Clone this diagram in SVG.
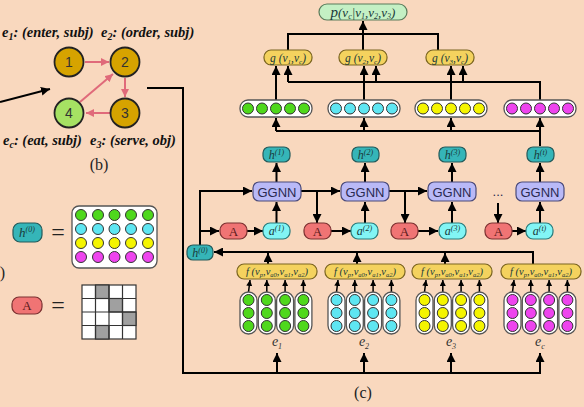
<svg xmlns="http://www.w3.org/2000/svg" width="584" height="407" viewBox="0 0 584 407">
<defs>
<style>
.ln{stroke:#000;stroke-width:2;fill:none}
.ar{stroke:#000;stroke-width:2;fill:none;marker-end:url(#ah)}
.ars{stroke:#000;stroke-width:1.5;fill:none;marker-end:url(#ahs)}
.pk{stroke:#e06a7a;stroke-width:2;fill:none;marker-end:url(#ahp)}
.lbl{font-family:"Liberation Serif",serif;font-weight:bold;font-style:italic;font-size:14.5px;fill:#111}
.num{font-family:"Liberation Sans",sans-serif;font-size:14px;fill:#333;text-anchor:middle}
.gold{fill:#d6a300;stroke:#222;stroke-width:1.8}
.lg{fill:#a6e163;stroke:#222;stroke-width:1.8}
.teal{fill:#35b5b8;stroke:#245a5a;stroke-width:1.2}
.cyanb{fill:#82f5f5;stroke:#2a7a7a;stroke-width:1.2}
.red{fill:#f07474;stroke:#7a3030;stroke-width:1.2}
.lav{fill:#b9b9f7;stroke:#4a4a7a;stroke-width:1.2}
.gbox{fill:#f4d25e;stroke:#7a6420;stroke-width:1.2}
.pbox{fill:#c4f0c4;stroke:#5a7a5a;stroke-width:1.2}
.wv{fill:#fff;stroke:#555;stroke-width:1.3}
.cg{fill:#4fd81c;stroke:#333;stroke-width:1}
.cc{fill:#5ee6f2;stroke:#333;stroke-width:1}
.cy{fill:#f5f500;stroke:#333;stroke-width:1}
.cm{fill:#ee44ee;stroke:#333;stroke-width:1}
.it{font-family:"Liberation Serif",serif;font-style:italic;fill:#1a3a3a;text-anchor:middle}
.el{font-family:"Liberation Serif",serif;font-style:italic;fill:#333;text-anchor:middle;font-size:14px}
.ggnn{font-family:"Liberation Sans",sans-serif;font-size:13px;fill:#2a2a50;text-anchor:middle}
.aT{font-family:"Liberation Serif",serif;font-size:13px;fill:#5a1a1a;text-anchor:middle}
.eq{font-family:"Liberation Serif",serif;font-size:24px;fill:#222;text-anchor:middle}
.cap{font-family:"Liberation Serif",serif;font-size:16px;fill:#222;text-anchor:middle}
</style>
<marker id="ah" viewBox="0 0 10 10" refX="10" refY="5" markerWidth="9" markerHeight="9" markerUnits="userSpaceOnUse" orient="auto"><path d="M0,0 L10,5 L0,10 z" fill="#000"/></marker>
<marker id="ahs" viewBox="0 0 10 10" refX="10" refY="5" markerWidth="6" markerHeight="6" markerUnits="userSpaceOnUse" orient="auto"><path d="M0,0 L10,5 L0,10 z" fill="#000"/></marker>
<marker id="ahp" viewBox="0 0 10 10" refX="10" refY="5" markerWidth="8" markerHeight="8" markerUnits="userSpaceOnUse" orient="auto"><path d="M0,0 L10,5 L0,10 z" fill="#e06a7a"/></marker>
</defs>
<rect x="0" y="0" width="584" height="407" fill="#f9d8be"/>

<!-- panel b -->
<g id="b-labels">
<text class="lbl" x="2" y="37">e<tspan font-size="10" dy="3">1</tspan><tspan dy="-3">: (enter, subj)</tspan></text>
<text class="lbl" x="101" y="37">e<tspan font-size="10" dy="3">2</tspan><tspan dy="-3">: (order, subj)</tspan></text>
<text class="lbl" x="3" y="145">e<tspan font-size="10" dy="3">c</tspan><tspan dy="-3">: (eat, subj)</tspan></text>
<text class="lbl" x="90" y="145">e<tspan font-size="10" dy="3">3</tspan><tspan dy="-3">: (serve, obj)</tspan></text>
<text class="cap" x="99" y="170">(b)</text>
<text class="cap" x="2.5" y="278" text-anchor="start">)</text>
</g>
<g id="b-edges">
<line class="pk" x1="85" y1="62" x2="109" y2="62"/>
<line class="pk" x1="125" y1="78" x2="125" y2="97"/>
<line class="pk" x1="110" y1="113" x2="86" y2="113"/>
<line class="pk" x1="80" y1="102" x2="113" y2="74"/>
</g>
<g id="b-n1"><circle class="gold" cx="69" cy="62" r="14.5"/><text class="num" x="69" y="67">1</text></g>
<g id="b-n2"><circle class="gold" cx="125" cy="62" r="14.5"/><text class="num" x="125" y="67">2</text></g>
<g id="b-n3"><circle class="gold" cx="125" cy="113" r="14.5"/><text class="num" x="125" y="118">3</text></g>
<g id="b-n4"><circle class="lg" cx="69" cy="113" r="14.5"/><text class="num" x="69" y="118">4</text></g>

<!-- legend -->
<g id="legend-h0">
<rect class="teal" x="13" y="223" width="29" height="19" rx="7"/>
<text class="it" x="27" y="236.5" font-size="13">h<tspan font-size="8" dy="-5">(0)</tspan></text>
<text class="eq" x="58" y="240">=</text>
<rect class="wv" x="72" y="206" width="85" height="62" rx="7"/>
<g>
<circle class="cg" cx="81" cy="215" r="5.5"/><circle class="cg" cx="98" cy="215" r="5.5"/><circle class="cg" cx="114.5" cy="215" r="5.5"/><circle class="cg" cx="131" cy="215" r="5.5"/><circle class="cg" cx="148" cy="215" r="5.5"/>
<circle class="cc" cx="81" cy="229" r="5.5"/><circle class="cc" cx="98" cy="229" r="5.5"/><circle class="cc" cx="114.5" cy="229" r="5.5"/><circle class="cc" cx="131" cy="229" r="5.5"/><circle class="cc" cx="148" cy="229" r="5.5"/>
<circle class="cy" cx="81" cy="243" r="5.5"/><circle class="cy" cx="98" cy="243" r="5.5"/><circle class="cy" cx="114.5" cy="243" r="5.5"/><circle class="cy" cx="131" cy="243" r="5.5"/><circle class="cy" cx="148" cy="243" r="5.5"/>
<circle class="cm" cx="81" cy="257" r="5.5"/><circle class="cm" cx="98" cy="257" r="5.5"/><circle class="cm" cx="114.5" cy="257" r="5.5"/><circle class="cm" cx="131" cy="257" r="5.5"/><circle class="cm" cx="148" cy="257" r="5.5"/>
</g>
</g>
<g id="legend-A">
<rect class="red" x="12" y="297" width="30" height="17" rx="7"/>
<text class="aT" x="27" y="310">A</text>
<text class="eq" x="58" y="313">=</text>
<g stroke="#333" stroke-width="1.2">
<rect x="82" y="285" width="54" height="54" fill="#fff"/>
<rect x="95.5" y="285" width="13.5" height="13.5" fill="#a0a0a0"/>
<rect x="109" y="298.5" width="13.5" height="13.5" fill="#a0a0a0"/>
<rect x="122.5" y="312" width="13.5" height="13.5" fill="#a0a0a0"/>
<rect x="95.5" y="325.5" width="13.5" height="13.5" fill="#a0a0a0"/>
<line x1="95.5" y1="285" x2="95.5" y2="339"/><line x1="109" y1="285" x2="109" y2="339"/><line x1="122.5" y1="285" x2="122.5" y2="339"/>
<line x1="82" y1="298.5" x2="136" y2="298.5"/><line x1="82" y1="312" x2="136" y2="312"/><line x1="82" y1="325.5" x2="136" y2="325.5"/>
</g>
</g>

<!-- connectors -->
<g id="connectors">
<line class="ar" x1="0" y1="102" x2="50" y2="89"/>
<polyline class="ln" points="147,88 183,88 183,373 541,373"/>
<line class="ar" x1="277" y1="373" x2="277" y2="353"/>
<line class="ar" x1="364" y1="373" x2="364" y2="353"/>
<line class="ar" x1="451" y1="373" x2="451" y2="353"/>
<line class="ar" x1="540" y1="373" x2="540" y2="353"/>
<g>
<line class="ars" x1="248.5" y1="292" x2="250" y2="280"/><line class="ars" x1="266.8" y1="292" x2="266.8" y2="280"/><line class="ars" x1="285.1" y1="292" x2="285.1" y2="280"/><line class="ars" x1="303.4" y1="292" x2="303.4" y2="280"/>
<line class="ars" x1="336.5" y1="292" x2="338" y2="280"/><line class="ars" x1="354.8" y1="292" x2="354.8" y2="280"/><line class="ars" x1="373.1" y1="292" x2="373.1" y2="280"/><line class="ars" x1="391.4" y1="292" x2="391.4" y2="280"/>
<line class="ars" x1="424.5" y1="292" x2="426" y2="280"/><line class="ars" x1="442.8" y1="292" x2="442.8" y2="280"/><line class="ars" x1="461.1" y1="292" x2="461.1" y2="280"/><line class="ars" x1="479.4" y1="292" x2="479.4" y2="280"/>
<line class="ars" x1="512.5" y1="292" x2="514" y2="280"/><line class="ars" x1="530.8" y1="292" x2="530.8" y2="280"/><line class="ars" x1="549.1" y1="292" x2="549.1" y2="280"/><line class="ars" x1="567.4" y1="292" x2="567.4" y2="280"/>
</g>
<polyline class="ar" points="533,264 533,252 214,252"/>
<line class="ar" x1="268" y1="264" x2="268" y2="253"/>
<line class="ar" x1="357" y1="264" x2="357" y2="253"/>
<line class="ar" x1="445" y1="264" x2="445" y2="253"/>
<polyline class="ar" points="200,245 200,191 252,191"/>
<line class="ar" x1="200" y1="231" x2="219" y2="231"/>
<line class="ar" x1="247" y1="231" x2="263" y2="231"/>
<line class="ar" x1="331" y1="231" x2="351" y2="231"/>
<line class="ar" x1="418" y1="231" x2="438" y2="231"/>
<line class="ar" x1="512" y1="231" x2="526" y2="231"/>
<line class="ar" x1="276.5" y1="223" x2="276.5" y2="202"/>
<line class="ar" x1="365" y1="223" x2="365" y2="202"/>
<line class="ar" x1="452" y1="223" x2="452" y2="202"/>
<line class="ar" x1="540" y1="223" x2="540" y2="202"/>
<line class="ar" x1="276.5" y1="182" x2="276.5" y2="163"/>
<line class="ar" x1="365" y1="182" x2="365" y2="163"/>
<line class="ar" x1="452" y1="182" x2="452" y2="163"/>
<line class="ar" x1="540" y1="182" x2="540" y2="163"/>
<line class="ar" x1="301" y1="191" x2="340" y2="191"/>
<line class="ar" x1="317" y1="191" x2="317" y2="223"/>
<line class="ar" x1="389" y1="191" x2="427" y2="191"/>
<line class="ar" x1="405" y1="191" x2="405" y2="223"/>
<line class="ar" x1="498" y1="203" x2="498" y2="223"/>
<polyline class="ln" points="540,146 540,131 276,131"/>
<line class="ar" x1="276" y1="131" x2="276" y2="118"/>
<line class="ar" x1="364" y1="131" x2="364" y2="118"/>
<line class="ar" x1="451" y1="131" x2="451" y2="118"/>
<line class="ar" x1="540" y1="131" x2="540" y2="118"/>
<line class="ar" x1="276" y1="100" x2="276" y2="66"/>
<line class="ar" x1="364" y1="100" x2="364" y2="66"/>
<line class="ar" x1="451" y1="100" x2="451" y2="66"/>
<polyline class="ln" points="540,100 540,82 288,82"/>
<line class="ar" x1="288" y1="82" x2="288" y2="66"/>
<line class="ar" x1="376" y1="82" x2="376" y2="66"/>
<line class="ar" x1="463" y1="82" x2="463" y2="66"/>
<polyline class="ln" points="288,50 288,34 438,34 438,50"/>
<line class="ar" x1="363" y1="50" x2="363" y2="21"/>
</g>

<g id="p-node"><rect class="pbox" x="319" y="4" width="88" height="16" rx="8"/>
<text class="it" x="363" y="17" font-size="15">p<tspan font-size="13">(v</tspan><tspan font-size="8" dy="2">c</tspan><tspan font-size="13" dy="-2">|v</tspan><tspan font-size="8" dy="2">1</tspan><tspan font-size="13" dy="-2">,v</tspan><tspan font-size="8" dy="2">2</tspan><tspan font-size="13" dy="-2">,v</tspan><tspan font-size="8" dy="2">3</tspan><tspan font-size="13" dy="-2">)</tspan></text></g>

<g id="g1"><rect class="gbox" x="264" y="50" width="48" height="15" rx="7"/><text class="it" x="288" y="61.5" font-size="11.5">g (v<tspan font-size="7" dy="2">1</tspan><tspan dy="-2">,v</tspan><tspan font-size="7" dy="2">c</tspan><tspan dy="-2">)</tspan></text></g>
<g id="g2"><rect class="gbox" x="339" y="50" width="48" height="15" rx="7"/><text class="it" x="363" y="61.5" font-size="11.5">g (v<tspan font-size="7" dy="2">2</tspan><tspan dy="-2">,v</tspan><tspan font-size="7" dy="2">c</tspan><tspan dy="-2">)</tspan></text></g>
<g id="g3"><rect class="gbox" x="426" y="50" width="48" height="15" rx="7"/><text class="it" x="450" y="61.5" font-size="11.5">g (v<tspan font-size="7" dy="2">3</tspan><tspan dy="-2">,v</tspan><tspan font-size="7" dy="2">c</tspan><tspan dy="-2">)</tspan></text></g>

<g id="vec-green"><rect class="wv" x="240" y="100" width="72" height="17" rx="8"/>
<circle class="cg" cx="248" cy="108.5" r="5.5"/><circle class="cg" cx="262" cy="108.5" r="5.5"/><circle class="cg" cx="276" cy="108.5" r="5.5"/><circle class="cg" cx="290" cy="108.5" r="5.5"/><circle class="cg" cx="304" cy="108.5" r="5.5"/></g>
<g id="vec-cyan"><rect class="wv" x="328" y="100" width="72" height="17" rx="8"/>
<circle class="cc" cx="336" cy="108.5" r="5.5"/><circle class="cc" cx="350" cy="108.5" r="5.5"/><circle class="cc" cx="364" cy="108.5" r="5.5"/><circle class="cc" cx="378" cy="108.5" r="5.5"/><circle class="cc" cx="392" cy="108.5" r="5.5"/></g>
<g id="vec-yellow"><rect class="wv" x="415" y="100" width="72" height="17" rx="8"/>
<circle class="cy" cx="423" cy="108.5" r="5.5"/><circle class="cy" cx="437" cy="108.5" r="5.5"/><circle class="cy" cx="451" cy="108.5" r="5.5"/><circle class="cy" cx="465" cy="108.5" r="5.5"/><circle class="cy" cx="479" cy="108.5" r="5.5"/></g>
<g id="vec-magenta"><rect class="wv" x="504" y="100" width="72" height="17" rx="8"/>
<circle class="cm" cx="512" cy="108.5" r="5.5"/><circle class="cm" cx="526" cy="108.5" r="5.5"/><circle class="cm" cx="540" cy="108.5" r="5.5"/><circle class="cm" cx="554" cy="108.5" r="5.5"/><circle class="cm" cx="568" cy="108.5" r="5.5"/></g>

<g id="h1"><rect class="teal" x="263" y="147" width="27" height="15" rx="6"/><text class="it" x="276.5" y="159" font-size="12">h<tspan font-size="8" dy="-4">(1)</tspan></text></g>
<g id="h2"><rect class="teal" x="352" y="147" width="27" height="15" rx="6"/><text class="it" x="365.5" y="159" font-size="12">h<tspan font-size="8" dy="-4">(2)</tspan></text></g>
<g id="h3"><rect class="teal" x="439" y="147" width="27" height="15" rx="6"/><text class="it" x="452.5" y="159" font-size="12">h<tspan font-size="8" dy="-4">(3)</tspan></text></g>
<g id="ht"><rect class="teal" x="527" y="147" width="27" height="15" rx="6"/><text class="it" x="540.5" y="159" font-size="12">h<tspan font-size="8" dy="-4">(t)</tspan></text></g>

<g id="ggnn1"><rect class="lav" x="253" y="182" width="48" height="19" rx="6"/><text class="ggnn" x="277" y="196.5">GGNN</text></g>
<g id="ggnn2"><rect class="lav" x="341" y="182" width="48" height="19" rx="6"/><text class="ggnn" x="365" y="196.5">GGNN</text></g>
<g id="ggnn3"><rect class="lav" x="428" y="182" width="48" height="19" rx="6"/><text class="ggnn" x="452" y="196.5">GGNN</text></g>
<g id="ggnn4"><rect class="lav" x="516" y="182" width="48" height="19" rx="6"/><text class="ggnn" x="540" y="196.5">GGNN</text></g>
<g id="dots"><text class="ggnn" x="498" y="196">...</text></g>

<g id="A1"><rect class="red" x="220" y="223" width="27" height="16" rx="7"/><text class="aT" x="233.5" y="235.5">A</text></g>
<g id="A2"><rect class="red" x="304" y="223" width="27" height="16" rx="7"/><text class="aT" x="317.5" y="235.5">A</text></g>
<g id="A3"><rect class="red" x="391" y="223" width="27" height="16" rx="7"/><text class="aT" x="404.5" y="235.5">A</text></g>
<g id="A4"><rect class="red" x="485" y="223" width="27" height="16" rx="7"/><text class="aT" x="498.5" y="235.5">A</text></g>

<g id="a1"><rect class="cyanb" x="263" y="223" width="27" height="16" rx="7"/><text class="it" x="276.5" y="235" font-size="12">a<tspan font-size="8" dy="-4">(1)</tspan></text></g>
<g id="a2"><rect class="cyanb" x="351" y="223" width="27" height="16" rx="7"/><text class="it" x="364.5" y="235" font-size="12">a<tspan font-size="8" dy="-4">(2)</tspan></text></g>
<g id="a3"><rect class="cyanb" x="439" y="223" width="27" height="16" rx="7"/><text class="it" x="452.5" y="235" font-size="12">a<tspan font-size="8" dy="-4">(3)</tspan></text></g>
<g id="at"><rect class="cyanb" x="526" y="223" width="27" height="16" rx="7"/><text class="it" x="539.5" y="235" font-size="12">a<tspan font-size="8" dy="-4">(t)</tspan></text></g>

<g id="h0"><rect class="teal" x="187" y="245" width="26" height="15" rx="6"/><text class="it" x="200" y="257" font-size="12">h<tspan font-size="8" dy="-4">(0)</tspan></text></g>

<g id="f1"><rect class="gbox" x="237" y="264" width="80" height="15" rx="7"/><text class="it" x="277" y="275" font-size="10.5">f (v<tspan font-size="6.5" dy="2">p</tspan><tspan dy="-2">,v</tspan><tspan font-size="6.5" dy="2">a0</tspan><tspan dy="-2">,v</tspan><tspan font-size="6.5" dy="2">a1</tspan><tspan dy="-2">,v</tspan><tspan font-size="6.5" dy="2">a2</tspan><tspan dy="-2">)</tspan></text></g>
<g id="f2"><rect class="gbox" x="325" y="264" width="80" height="15" rx="7"/><text class="it" x="365" y="275" font-size="10.5">f (v<tspan font-size="6.5" dy="2">p</tspan><tspan dy="-2">,v</tspan><tspan font-size="6.5" dy="2">a0</tspan><tspan dy="-2">,v</tspan><tspan font-size="6.5" dy="2">a1</tspan><tspan dy="-2">,v</tspan><tspan font-size="6.5" dy="2">a2</tspan><tspan dy="-2">)</tspan></text></g>
<g id="f3"><rect class="gbox" x="412" y="264" width="80" height="15" rx="7"/><text class="it" x="452" y="275" font-size="10.5">f (v<tspan font-size="6.5" dy="2">p</tspan><tspan dy="-2">,v</tspan><tspan font-size="6.5" dy="2">a0</tspan><tspan dy="-2">,v</tspan><tspan font-size="6.5" dy="2">a1</tspan><tspan dy="-2">,v</tspan><tspan font-size="6.5" dy="2">a2</tspan><tspan dy="-2">)</tspan></text></g>
<g id="f4"><rect class="gbox" x="501" y="264" width="80" height="15" rx="7"/><text class="it" x="541" y="275" font-size="10.5">f (v<tspan font-size="6.5" dy="2">p</tspan><tspan dy="-2">,v</tspan><tspan font-size="6.5" dy="2">a0</tspan><tspan dy="-2">,v</tspan><tspan font-size="6.5" dy="2">a1</tspan><tspan dy="-2">,v</tspan><tspan font-size="6.5" dy="2">a2</tspan><tspan dy="-2">)</tspan></text></g>

<g id="cols-green">
<rect class="wv" x="240" y="292" width="17" height="42" rx="8.5"/><rect class="wv" x="258.3" y="292" width="17" height="42" rx="8.5"/><rect class="wv" x="276.6" y="292" width="17" height="42" rx="8.5"/><rect class="wv" x="294.9" y="292" width="17" height="42" rx="8.5"/>
<circle class="cg" cx="248.5" cy="300" r="5.5"/><circle class="cg" cx="248.5" cy="313" r="5.5"/><circle class="cg" cx="248.5" cy="326" r="5.5"/>
<circle class="cg" cx="266.8" cy="300" r="5.5"/><circle class="cg" cx="266.8" cy="313" r="5.5"/><circle class="cg" cx="266.8" cy="326" r="5.5"/>
<circle class="cg" cx="285.1" cy="300" r="5.5"/><circle class="cg" cx="285.1" cy="313" r="5.5"/><circle class="cg" cx="285.1" cy="326" r="5.5"/>
<circle class="cg" cx="303.4" cy="300" r="5.5"/><circle class="cg" cx="303.4" cy="313" r="5.5"/><circle class="cg" cx="303.4" cy="326" r="5.5"/>
</g>
<g id="cols-cyan">
<rect class="wv" x="328" y="292" width="17" height="42" rx="8.5"/><rect class="wv" x="346.3" y="292" width="17" height="42" rx="8.5"/><rect class="wv" x="364.6" y="292" width="17" height="42" rx="8.5"/><rect class="wv" x="382.9" y="292" width="17" height="42" rx="8.5"/>
<circle class="cc" cx="336.5" cy="300" r="5.5"/><circle class="cc" cx="336.5" cy="313" r="5.5"/><circle class="cc" cx="336.5" cy="326" r="5.5"/>
<circle class="cc" cx="354.8" cy="300" r="5.5"/><circle class="cc" cx="354.8" cy="313" r="5.5"/><circle class="cc" cx="354.8" cy="326" r="5.5"/>
<circle class="cc" cx="373.1" cy="300" r="5.5"/><circle class="cc" cx="373.1" cy="313" r="5.5"/><circle class="cc" cx="373.1" cy="326" r="5.5"/>
<circle class="cc" cx="391.4" cy="300" r="5.5"/><circle class="cc" cx="391.4" cy="313" r="5.5"/><circle class="cc" cx="391.4" cy="326" r="5.5"/>
</g>
<g id="cols-yellow">
<rect class="wv" x="416" y="292" width="17" height="42" rx="8.5"/><rect class="wv" x="434.3" y="292" width="17" height="42" rx="8.5"/><rect class="wv" x="452.6" y="292" width="17" height="42" rx="8.5"/><rect class="wv" x="470.9" y="292" width="17" height="42" rx="8.5"/>
<circle class="cy" cx="424.5" cy="300" r="5.5"/><circle class="cy" cx="424.5" cy="313" r="5.5"/><circle class="cy" cx="424.5" cy="326" r="5.5"/>
<circle class="cy" cx="442.8" cy="300" r="5.5"/><circle class="cy" cx="442.8" cy="313" r="5.5"/><circle class="cy" cx="442.8" cy="326" r="5.5"/>
<circle class="cy" cx="461.1" cy="300" r="5.5"/><circle class="cy" cx="461.1" cy="313" r="5.5"/><circle class="cy" cx="461.1" cy="326" r="5.5"/>
<circle class="cy" cx="479.4" cy="300" r="5.5"/><circle class="cy" cx="479.4" cy="313" r="5.5"/><circle class="cy" cx="479.4" cy="326" r="5.5"/>
</g>
<g id="cols-magenta">
<rect class="wv" x="504" y="292" width="17" height="42" rx="8.5"/><rect class="wv" x="522.3" y="292" width="17" height="42" rx="8.5"/><rect class="wv" x="540.6" y="292" width="17" height="42" rx="8.5"/><rect class="wv" x="558.9" y="292" width="17" height="42" rx="8.5"/>
<circle class="cm" cx="512.5" cy="300" r="5.5"/><circle class="cm" cx="512.5" cy="313" r="5.5"/><circle class="cm" cx="512.5" cy="326" r="5.5"/>
<circle class="cm" cx="530.8" cy="300" r="5.5"/><circle class="cm" cx="530.8" cy="313" r="5.5"/><circle class="cm" cx="530.8" cy="326" r="5.5"/>
<circle class="cm" cx="549.1" cy="300" r="5.5"/><circle class="cm" cx="549.1" cy="313" r="5.5"/><circle class="cm" cx="549.1" cy="326" r="5.5"/>
<circle class="cm" cx="567.4" cy="300" r="5.5"/><circle class="cm" cx="567.4" cy="313" r="5.5"/><circle class="cm" cx="567.4" cy="326" r="5.5"/>
</g>

<g id="e-labels">
<text class="el" x="277" y="346">e<tspan font-size="8" dy="3">1</tspan></text>
<text class="el" x="364" y="346">e<tspan font-size="8" dy="3">2</tspan></text>
<text class="el" x="451" y="346">e<tspan font-size="8" dy="3">3</tspan></text>
<text class="el" x="540" y="346">e<tspan font-size="8" dy="3">c</tspan></text>
<text class="cap" x="363" y="398">(c)</text>
</g>
</svg>
